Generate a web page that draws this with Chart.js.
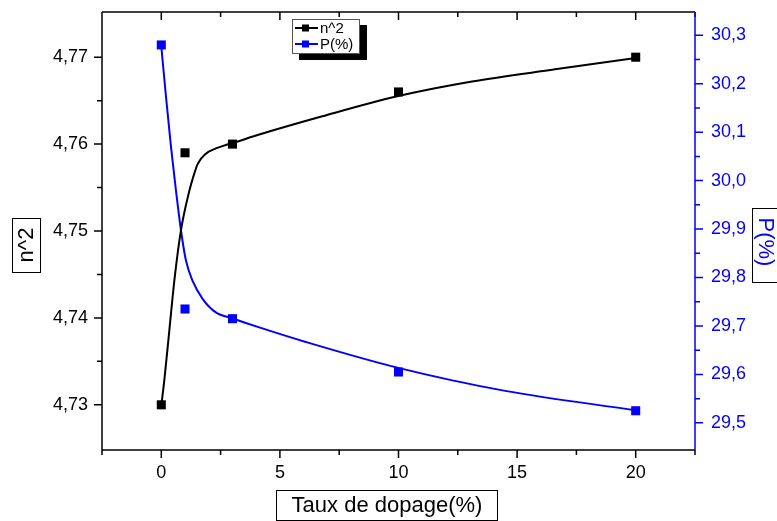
<!DOCTYPE html>
<html>
<head>
<meta charset="utf-8">
<script src="https://cdn.jsdelivr.net/npm/chart.js@4"></script>
<style>
  html, body { margin: 0; padding: 0; background: #fff; }
  #wrap { width: 777px; height: 521px; position: relative; }
</style>
</head>
<body>
<div id="wrap"><canvas id="dopChart"></canvas></div>
<script>
// Taux de dopage (%) and the measured values
const dopage = [0, 1, 3, 10, 20];
const n2 = [4.730, 4.759, 4.760, 4.766, 4.770];
const pPct = [30.28, 29.735, 29.715, 29.605, 29.525];

// fitted curves
const fitN2X = [0, 0.13, 0.34, 0.55, 0.83, 1.18, 1.39, 1.53, 1.88, 2.3, 2.72, 2.98, 4.13, 6.79, 9.95, 13.1, 16.6, 20];
const fitN2Y = [4.7299, 4.7329, 4.7386, 4.7443, 4.7501, 4.7546, 4.7566, 4.7577, 4.7589, 4.7595, 4.7599, 4.7601, 4.7611, 4.7632, 4.7655, 4.7672, 4.7686, 4.7699];
const fitPX = [0, 0.2, 0.41, 0.62, 0.83, 1.04, 1.32, 1.74, 2.3, 2.98, 4.13, 6.09, 9.95, 14.5, 20];
const fitPY = [30.277, 30.172, 30.069, 29.979, 29.897, 29.835, 29.793, 29.756, 29.728, 29.716, 29.697, 29.667, 29.614, 29.566, 29.526];

// axis ticks
const xMajor = [0, 5, 10, 15, 20];
const xMinor = [-2.5, 2.5, 7.5, 12.5, 17.5, 22.5];
const n2Major = [4.73, 4.74, 4.75, 4.76, 4.77];
const n2Minor = [4.735, 4.745, 4.755, 4.765];
const pMajor = [29.5, 29.6, 29.7, 29.8, 29.9, 30.0, 30.1, 30.2, 30.3];
const pMinor = [29.55, 29.65, 29.75, 29.85, 29.95, 30.05, 30.15, 30.25];

const FONT = 'Liberation Sans, Arial, sans-serif';
const BLUE = '#0000ff';

const pairs = (xs, ys) => xs.map((x, i) => ({ x: x, y: ys[i] }));
const comma = (v, d) => v.toFixed(d).replace('.', ',');

// axes frame, tick marks, boxed titles and legend
const framePlugin = {
  id: 'frame',
  afterDraw(chart) {
    const ctx = chart.ctx;
    const a = chart.chartArea;
    const sx = chart.scales.x, sl = chart.scales.y, sr = chart.scales.y2;
    ctx.save();
    ctx.lineWidth = 1.5;

    // top, bottom and left axes
    ctx.strokeStyle = '#000';
    ctx.beginPath();
    ctx.moveTo(a.left, a.top); ctx.lineTo(a.right, a.top);
    ctx.moveTo(a.left, a.bottom); ctx.lineTo(a.right, a.bottom);
    ctx.moveTo(a.left, a.top); ctx.lineTo(a.left, a.bottom);
    xMajor.forEach(v => {
      const p = sx.getPixelForValue(v);
      ctx.moveTo(p, a.bottom); ctx.lineTo(p, a.bottom + 8);
      ctx.moveTo(p, a.top); ctx.lineTo(p, a.top + 8);
    });
    xMinor.forEach(v => {
      const p = sx.getPixelForValue(v);
      ctx.moveTo(p, a.bottom); ctx.lineTo(p, a.bottom + 5);
      ctx.moveTo(p, a.top); ctx.lineTo(p, a.top + 5);
    });
    n2Major.forEach(v => {
      const p = sl.getPixelForValue(v);
      ctx.moveTo(a.left, p); ctx.lineTo(a.left - 8, p);
    });
    n2Minor.forEach(v => {
      const p = sl.getPixelForValue(v);
      ctx.moveTo(a.left, p); ctx.lineTo(a.left - 5, p);
    });
    ctx.stroke();

    // right axis in blue
    ctx.strokeStyle = BLUE;
    ctx.beginPath();
    ctx.moveTo(a.right, a.top); ctx.lineTo(a.right, a.bottom);
    pMajor.forEach(v => {
      const p = sr.getPixelForValue(v);
      ctx.moveTo(a.right, p); ctx.lineTo(a.right + 8, p);
    });
    pMinor.forEach(v => {
      const p = sr.getPixelForValue(v);
      ctx.moveTo(a.right, p); ctx.lineTo(a.right + 5, p);
    });
    ctx.stroke();

    // boxed axis titles
    ctx.lineWidth = 1;
    ctx.strokeStyle = '#000';
    ctx.font = '22px ' + FONT;
    ctx.textAlign = 'center';
    ctx.textBaseline = 'middle';

    ctx.strokeRect(276.5, 490.5, 221, 30);
    ctx.fillStyle = '#000';
    ctx.fillText('Taux de dopage(%)', 387, 506);

    ctx.strokeRect(12.5, 218.5, 28, 54);
    ctx.save();
    ctx.translate(27, 245);
    ctx.rotate(-Math.PI / 2);
    ctx.fillText('n^2', 0, 0);
    ctx.restore();

    ctx.strokeRect(752.5, 208.5, 30, 74);
    ctx.save();
    ctx.translate(765, 242);
    ctx.rotate(Math.PI / 2);
    ctx.fillStyle = BLUE;
    ctx.fillText('P(%)', 0, 0);
    ctx.restore();

    // legend with drop shadow
    ctx.fillStyle = '#000';
    ctx.fillRect(299, 25, 68, 35);
    ctx.fillStyle = '#fff';
    ctx.fillRect(292, 19, 68, 35);
    ctx.strokeStyle = '#555';
    ctx.strokeRect(292.5, 19.5, 67, 34);

    const entries = [['n^2', '#000', 28], ['P(%)', BLUE, 44]];
    ctx.font = '15px ' + FONT;
    ctx.textAlign = 'left';
    entries.forEach(([label, color, y]) => {
      ctx.strokeStyle = color;
      ctx.fillStyle = color;
      ctx.lineWidth = 2;
      ctx.beginPath();
      ctx.moveTo(295, y); ctx.lineTo(318, y);
      ctx.stroke();
      ctx.fillRect(302, y - 3.5, 7, 7);
      ctx.fillStyle = '#000';
      ctx.fillText(label, 320, y + 1);
    });
    ctx.restore();
  }
};

const ctx = document.getElementById('dopChart').getContext('2d');
const dopChart = new Chart(ctx, {
  type: 'scatter',
  data: {
    datasets: [
      {
        label: 'n^2 fit',
        data: pairs(fitN2X, fitN2Y),
        yAxisID: 'y',
        showLine: true,
        borderColor: '#000',
        borderWidth: 2,
        pointRadius: 0,
        cubicInterpolationMode: 'monotone'
      },
      {
        label: 'P(%) fit',
        data: pairs(fitPX, fitPY),
        yAxisID: 'y2',
        showLine: true,
        borderColor: BLUE,
        borderWidth: 2,
        pointRadius: 0,
        cubicInterpolationMode: 'monotone'
      },
      {
        label: 'n^2',
        data: pairs(dopage, n2),
        yAxisID: 'y',
        pointStyle: 'rect',
        pointRadius: 6.4,
        backgroundColor: '#000',
        borderColor: '#000',
        borderWidth: 0
      },
      {
        label: 'P(%)',
        data: pairs(dopage, pPct),
        yAxisID: 'y2',
        pointStyle: 'rect',
        pointRadius: 6.4,
        backgroundColor: BLUE,
        borderColor: BLUE,
        borderWidth: 0
      }
    ]
  },
  options: {
    responsive: true,
    maintainAspectRatio: false,
    animation: false,
    layout: { padding: { top: 12, left: 0, right: 0, bottom: 0 } },
    plugins: {
      legend: { display: false },
      tooltip: { enabled: false }
    },
    scales: {
      x: {
        type: 'linear',
        position: 'bottom',
        min: -2.5,
        max: 22.5,
        grid: { display: false, drawTicks: false },
        border: { display: false },
        afterBuildTicks: s => { s.ticks = xMajor.map(v => ({ value: v })); },
        afterFit: s => { s.height = 71; s.paddingLeft = 0; s.paddingRight = 0; },
        ticks: {
          padding: 12,
          color: '#000',
          font: { family: FONT, size: 18 },
          maxRotation: 0,
          callback: v => String(v)
        }
      },
      y: {
        type: 'linear',
        position: 'left',
        min: 4.7248,
        max: 4.7752,
        grid: { display: false, drawTicks: false },
        border: { display: false },
        afterBuildTicks: s => { s.ticks = n2Major.map(v => ({ value: v })); },
        afterFit: s => { s.width = 102; s.paddingTop = 0; s.paddingBottom = 0; },
        ticks: {
          padding: 14,
          color: '#000',
          font: { family: FONT, size: 18 },
          callback: v => comma(v, 2)
        }
      },
      y2: {
        type: 'linear',
        position: 'right',
        min: 29.444,
        max: 30.348,
        grid: { display: false, drawTicks: false },
        border: { display: false },
        afterBuildTicks: s => { s.ticks = pMajor.map(v => ({ value: v })); },
        afterFit: s => { s.width = 82; s.paddingTop = 0; s.paddingBottom = 0; },
        ticks: {
          padding: 16,
          color: BLUE,
          font: { family: FONT, size: 18 },
          callback: v => comma(v, 1)
        }
      }
    }
  },
  plugins: [framePlugin]
});
</script>
</body>
</html>
